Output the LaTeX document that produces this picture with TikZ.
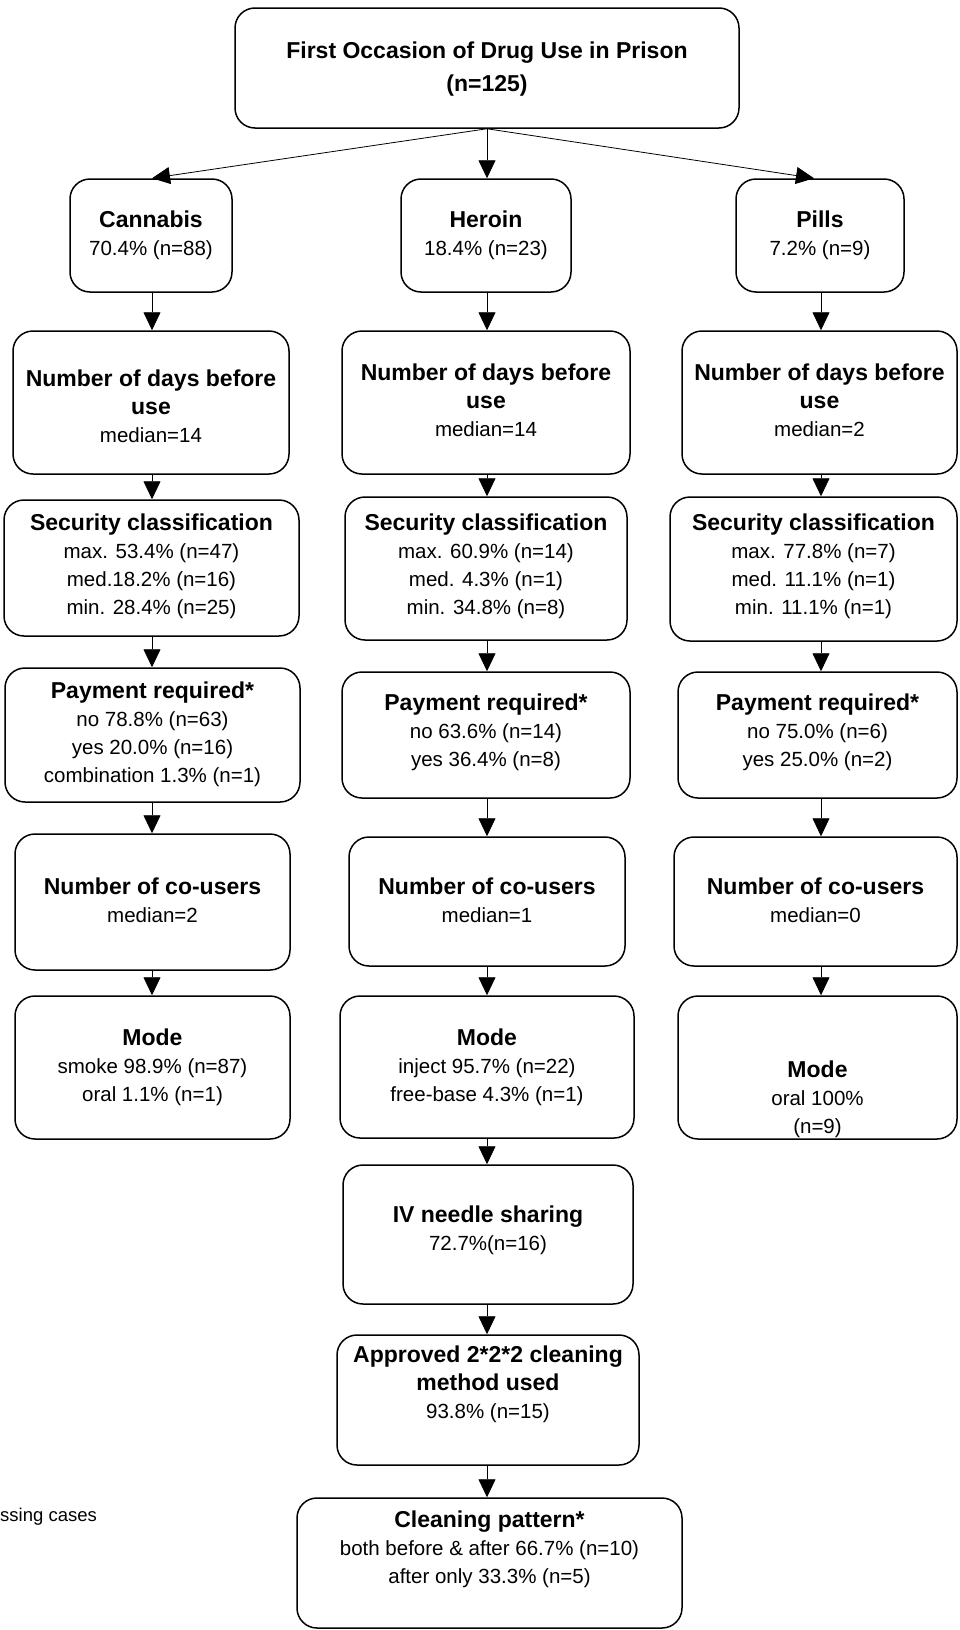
\documentclass[tikz,border=0pt]{standalone}
\usepackage{fontspec}
\setmainfont{Liberation Sans}
\usetikzlibrary{arrows.meta}
\newcommand{\hd}[1]{{\fontsize{23}{28}\selectfont\bfseries #1}}
\newcommand{\mybox}[7]{%
  \node[box, minimum width=#4pt, minimum height=#5pt] (#1) at (#2,#3) {};
  \node[txt] (#1t) at (#2,#6) {#7};}
\begin{document}
\begin{tikzpicture}[x=1pt,y=-1pt,
  box/.style={draw=black, line width=1.5pt, rounded corners=20pt, fill=white, inner sep=0pt},
  txt/.style={align=center, font=\fontsize{20.5}{28}\selectfont, inner sep=0pt},
  arr/.style={line width=0.8pt, -{Triangle[length=18pt,width=17pt]}}]
\fill[white] (0,0) rectangle (959,1630);
\useasboundingbox (0,0) rectangle (959,1630);
\coordinate (A) at (152,0);
\coordinate (B) at (487,0);
\coordinate (C) at (821,0);

\mybox{top}{487}{68}{504}{120}{69}{\hd{First Occasion of Drug Use in Prison}\\[5pt]\hd{(n=125)}}

\mybox{c1}{151}{235.5}{162}{113}{235}{\hd{Cannabis}\\70.4\% (n=88)}
\mybox{h1}{486}{235.5}{170}{113}{235}{\hd{Heroin}\\18.4\% (n=23)}
\mybox{p1}{820}{235.5}{168}{113}{235}{\hd{Pills}\\7.2\% (n=9)}

\mybox{c2}{151}{402.5}{276}{143}{406}{\hd{Number of days before}\\\hd{use}\\median=14}
\mybox{h2}{486}{402.5}{288}{143}{400}{\hd{Number of days before}\\\hd{use}\\median=14}
\mybox{p2}{819.5}{402.5}{275}{143}{400}{\hd{Number of days before}\\\hd{use}\\median=2}

\mybox{c3}{151.5}{568}{295}{136}{566}{\hd{Security classification}\\max. 53.4\% (n=47)\\med.18.2\% (n=16)\\min. 28.4\% (n=25)}
\mybox{h3}{486}{568.5}{282}{143}{566}{\hd{Security classification}\\max. 60.9\% (n=14)\\med. 4.3\% (n=1)\\min. 34.8\% (n=8)}
\mybox{p3}{813.5}{569}{287}{144}{566}{\hd{Security classification}\\max. 77.8\% (n=7)\\med. 11.1\% (n=1)\\min. 11.1\% (n=1)}

\mybox{c4}{152.5}{735}{295}{134}{734}{\hd{Payment required*}\\no 78.8\% (n=63)\\yes 20.0\% (n=16)\\combination 1.3\% (n=1)}
\mybox{h4}{486}{735}{288}{126}{732}{\hd{Payment required*}\\no 63.6\% (n=14)\\yes 36.4\% (n=8)}
\mybox{p4}{817.5}{735}{279}{126}{732}{\hd{Payment required*}\\no 75.0\% (n=6)\\yes 25.0\% (n=2)}

\mybox{c5}{152.5}{902}{275}{136}{900}{\hd{Number of co-users}\\median=2}
\mybox{h5}{487}{901.5}{276}{129}{900}{\hd{Number of co-users}\\median=1}
\mybox{p5}{815.5}{901.5}{283}{129}{900}{\hd{Number of co-users}\\median=0}

\mybox{c6}{152.5}{1067.5}{275}{143}{1067}{\hd{Mode}\\smoke 98.9\% (n=87)\\oral 1.1\% (n=1)}
\mybox{h6}{487}{1067}{294}{142}{1067}{\hd{Mode}\\inject 95.7\% (n=22)\\free-base 4.3\% (n=1)}
\mybox{p6}{817.5}{1067.5}{279}{143}{1099}{\hd{Mode}\\oral 100\%\\(n=9)}

\mybox{h7}{488}{1234.5}{290}{139}{1230}{\hd{IV needle sharing}\\72.7\%(n=16)}
\mybox{h8}{488}{1400}{302}{130}{1384}{\hd{Approved 2*2*2 cleaning}\\\hd{method used}\\93.8\% (n=15)}
\mybox{h9}{489.5}{1563}{385}{130}{1549}{\hd{Cleaning pattern*}\\both before \& after 66.7\% (n=10)\\after only 33.3\% (n=5)}

\node[txt, anchor=west, font=\fontsize{18.5}{22}\selectfont] (note) at (0,1517) {ssing cases};

\coordinate (tA) at (152,179);
\coordinate (tC) at (814,179);
\draw[arr] (top.south) -- (c1.north -| tA);
\draw[arr] (top.south) -- (h1.north -| B);
\draw[arr] (top.south) -- (p1.north -| tC);

\foreach \a/\b in {c1/c2,c2/c3,c3/c4,c4/c5,c5/c6}
  \draw[arr] (\a.south -| A) -- (\b.north -| A);
\foreach \a/\b in {h1/h2,h2/h3,h3/h4,h4/h5,h5/h6,h6/h7,h7/h8,h8/h9}
  \draw[arr] (\a.south -| B) -- (\b.north -| B);
\foreach \a/\b in {p1/p2,p2/p3,p3/p4,p4/p5,p5/p6}
  \draw[arr] (\a.south -| C) -- (\b.north -| C);
\end{tikzpicture}
\end{document}
